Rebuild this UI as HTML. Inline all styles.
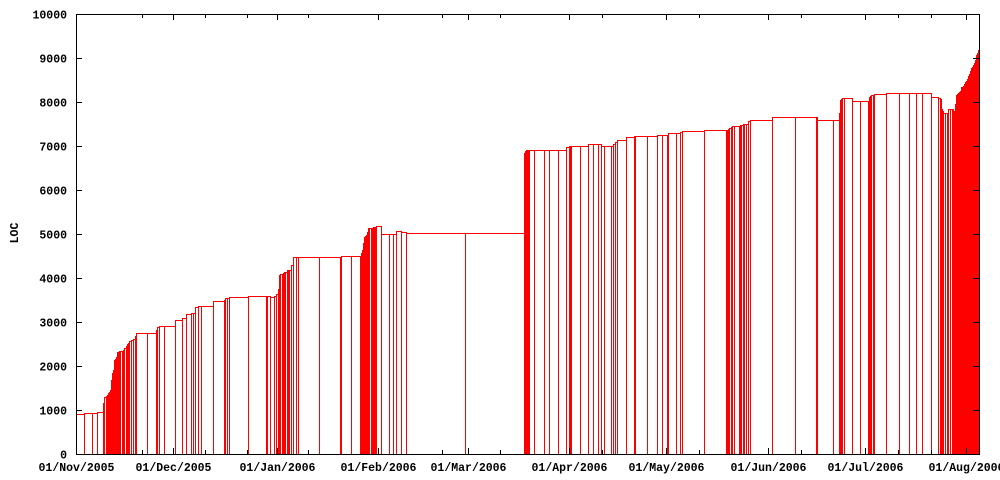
<!DOCTYPE html>
<html><head><meta charset="utf-8"><style>
html,body{margin:0;padding:0;background:#fff;}
svg{display:block;font-family:"Liberation Mono",monospace;font-weight:bold;font-size:11.5px;}
</style></head><body>
<svg id="chart" width="1000" height="480" xmlns="http://www.w3.org/2000/svg">
<g id="marks"></g>
<g id="axes"></g>
</svg>
<script>
const days = [0,2.4,4.8,6.4,8.2,8.5,9.0,9.3,9.6,9.9,10.3,10.6,10.9,11.3,11.6,11.9,12.1,12.5,12.8,13.1,13.4,13.8,14.3,14.6,15.0,15.3,15.6,16.0,16.5,17.3,17.8,18.2,21.6,24.2,24.5,25.2,26.7,30.1,32.1,33.4,34.8,35.5,36.1,36.9,37.9,41.6,44.8,45.2,45.6,46.4,52.1,57.5,57.9,58.8,59.8,60.5,61.2,61.5,61.8,62.2,62.6,63.0,63.3,63.8,64.2,64.6,65.2,65.8,66.6,67.2,73.5,79.9,80.2,83.2,86.0,86.3,86.6,86.9,87.2,87.5,87.8,88.1,88.4,88.8,89.2,89.6,89.9,90.2,90.5,90.8,92.3,94.7,95.9,96.9,98.4,99.9,117.7,135.6,135.9,136.2,136.5,136.8,137.1,138.6,141.6,143.2,145.9,148.3,149.2,149.5,149.8,152.5,155.0,156.5,158.0,158.9,159.8,161.9,162.5,163.1,163.7,166.5,168.9,169.3,172.8,175.8,177.4,178.9,179.3,181.6,182.8,183.4,190.1,196.7,197.0,197.3,197.7,198.2,198.6,199.0,200.7,201.0,201.4,201.8,202.2,202.8,203.4,204.0,210.7,217.6,224.0,224.3,229.1,230.9,231.2,231.5,231.8,232.4,234.9,237.3,239.7,240.0,240.3,240.6,241.2,241.5,245.2,249.1,252.1,254.2,256.1,258.8,260.9,261.5,261.8,262.1,262.5,262.9,263.6,264.0,264.4,265.1,265.4,265.7,266.0,266.3,266.6,266.9,267.2,267.5,267.9,268.2,268.5,268.8,269.1,269.4,269.7,270.0,270.3,270.6,270.9,271.2,271.5,271.8,272.1,272.4,272.7,273.0];
const locs = [910,925,940,960,1160,1300,1320,1350,1380,1420,1450,1680,1850,1920,2140,2170,2200,2310,2320,2330,2340,2350,2370,2420,2460,2490,2520,2560,2600,2620,2680,2750,2750,2820,2880,2900,2900,3040,3090,3190,3210,3210,3330,3370,3370,3480,3500,3540,3550,3570,3600,3600,3600,3570,3600,3630,3750,4070,4080,4090,4110,4130,4140,4180,4180,4180,4300,4480,4470,4470,4470,4480,4500,4500,4500,4560,4640,4790,4940,4960,4980,5050,5130,5130,5130,5140,5150,5160,5170,5180,5010,5010,5010,5060,5040,5020,5020,6850,6880,6910,6910,6920,6920,6920,6920,6920,6920,6970,6990,7010,7010,7010,7050,7050,7050,7010,7010,7010,7040,7080,7140,7200,7220,7220,7220,7240,7240,7240,7290,7290,7310,7350,7370,7370,7370,7390,7420,7430,7450,7450,7450,7470,7480,7490,7500,7510,7560,7600,7650,7650,7650,7590,7590,7760,8045,8060,8080,8090,8030,8030,8030,8120,8140,8160,8170,8190,8200,8200,8200,8200,8200,8120,8080,8070,7840,7790,7760,7760,7760,7840,7840,7840,7740,7800,7950,8160,8180,8200,8230,8260,8330,8340,8360,8400,8450,8480,8520,8580,8640,8700,8770,8800,8840,8880,8950,9070,9120,9180];
const yTicks = [0,1000,2000,3000,4000,5000,6000,7000,8000,9000,10000];
const monthLabels = ["01/Nov/2005","01/Dec/2005","01/Jan/2006","01/Feb/2006","01/Mar/2006","01/Apr/2006","01/May/2006","01/Jun/2006","01/Jul/2006","01/Aug/2006"];
const monthDays = [0,29.4,60.8,91.4,118.6,149.2,178.6,209.4,238.8,269.4];
const minorDays = [20,39,51.8,70.2,110.8,128.3,159.2,188.6,219.4,248.8,258.8];

const NS="http://www.w3.org/2000/svg";
const X0=76, X1=979, Y0=454, Y1=14, DMAX=273.3;
function xs(d){return X0+(d/DMAX)*(X1-X0);}
function ys(v){return Y0-(v/10000)*(Y0-Y1);}
function mk(tag,attrs,parent){const e=document.createElementNS(NS,tag);for(const k in attrs)e.setAttribute(k,attrs[k]);parent.appendChild(e);return e;}
const marks=document.getElementById('marks'), axes=document.getElementById('axes');

for(let i=0;i<days.length;i++){
  const xa=Math.round(xs(days[i]))+0.5;
  const xb=i<days.length-1?Math.round(xs(days[i+1]))+0.5:X1+0.5;
  const yt=Math.round(ys(locs[i]))+0.5;
  const p=mk('path',{d:`M${xa},${Y0+0.5}V${yt}H${xb}V${Y0+0.5}`,fill:'none',stroke:'#ff0000','stroke-width':1},marks);
  
  
}

const border=mk('rect',{x:X0+0.5,y:Y1+0.5,width:X1-X0,height:Y0-Y1,fill:'none',stroke:'#000','stroke-width':1},axes);



yTicks.forEach(v=>{
  const y=Math.round(ys(v))+0.5;
  mk('path',{d:`M${X0},${y}h6M${X1},${y}h-6`,stroke:'#000','stroke-width':1},axes);
  const t=mk('text',{x:X0-9,y:y+4,'text-anchor':'end',fill:'#000'},axes);
  t.textContent=v;
  
  
});

minorDays.forEach(d=>{
  const x=Math.round(xs(d))+0.5;
  mk('path',{d:`M${x},${Y0}v-4M${x},${Y1}v4`,stroke:'#000','stroke-width':1},axes);
});

monthDays.forEach((d,i)=>{
  const x=Math.round(xs(d))+0.5;
  mk('path',{d:`M${x},${Y0}v-6M${x},${Y1}v6`,stroke:'#000','stroke-width':1},axes);
  const t=mk('text',{x:x,y:471,'text-anchor':'middle',fill:'#000'},axes);
  t.textContent=monthLabels[i];
  
  
});

const yl=mk('text',{x:18,y:233,'text-anchor':'middle',fill:'#000',transform:'rotate(-90 18 233)'},axes);
yl.textContent='LOC';


</script>
</body></html>
